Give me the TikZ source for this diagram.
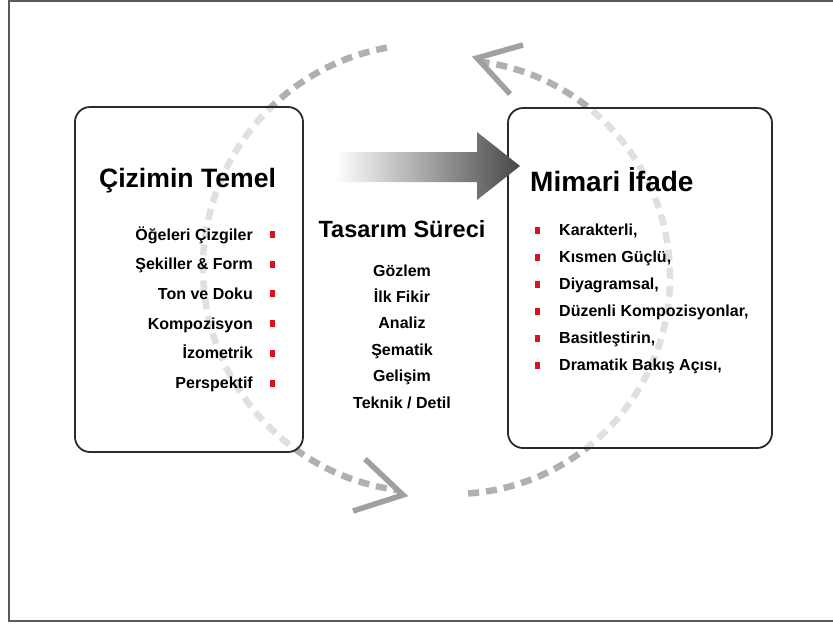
\documentclass[tikz,border=0pt]{standalone}
\usepackage{fontspec}
\setmainfont{Liberation Sans}
\usetikzlibrary{calc}
\definecolor{framegray}{HTML}{5A5A5A}
\definecolor{dashgray}{HTML}{B0B0B0}
\definecolor{headgray}{HTML}{A0A0A0}
\definecolor{bulletred}{HTML}{D8121E}
\definecolor{boxline}{HTML}{2A2A2A}
\begin{document}
\begin{tikzpicture}[x=1pt,y=-1pt,
  cyclearc/.style={draw=dashgray, line width=6.5pt, dash pattern=on 11pt off 7pt},
  chevron/.style={draw=headgray, line width=5.5pt},
  panel/.style={draw=boxline, line width=1.8pt, rounded corners=15pt,
    fill=white, fill opacity=0.62, inner sep=0pt},
  heading/.style={font=\bfseries\fontsize{#1}{#1}\selectfont, inner sep=0pt},
  item/.style={font=\bfseries\fontsize{16}{16}\selectfont, inner sep=0pt},
  bullet/.style={fill=bulletred, minimum width=5pt, minimum height=7pt, inner sep=0pt}
]
\useasboundingbox (0,0) rectangle (833,625);

% outer frame (open on the right)
\draw[framegray, line width=2pt] (833,621) -- (9,621) -- (9,0.8) -- (833,0.8);

% dashed cycle arcs with open chevron heads
\coordinate (lc) at (427,268);
\coordinate (rc) at (453,277);
\coordinate (ltip) at (403,495);
\coordinate (rtip) at (477,58);
\draw[cyclearc] ($(lc)+(259.7:224)$) arc[start angle=259.7, end angle=97.5, radius=224];
\draw[cyclearc] ($(rc)+(86:217)$) arc[start angle=86, end angle=-82.5, radius=217];
\draw[chevron] (365,459) -- (ltip) -- (353,511);
\draw[chevron] (523,45) -- (rtip) -- (510,94);

% panels
\node[panel, minimum width=228pt, minimum height=345pt] (fund) at (189,279.5) {};
\node[panel, minimum width=264pt, minimum height=340pt] (expr) at (640,278) {};

% shaded process arrow
\shade[left color=white, right color=black!72]
  (335,152) -- (477,152) -- (477,132) -- (520,166) -- (477,200) -- (477,182) -- (335,182) -- cycle;

% headings
\node[heading=26.6, anchor=base] (ttlA) at (187.5,187.5) {Çizimin Temel};
\node[heading=28, anchor=base west] (ttlB) at (530,191) {Mimari İfade};
\node[heading=23.5, anchor=base] (ttlC) at (402,237) {Tasarım Süreci};

% left list
\foreach \t [count=\i from 0] in {Öğeleri Çizgiler, Şekiller \& Form, Ton ve Doku,
    Kompozisyon, İzometrik, Perspektif} {
  \node[item, anchor=base east] (l\i) at (253, 240+29.7*\i) {\t};
  \node[bullet] (lb\i) at (272, 234.5+29.7*\i) {};
}

% middle list
\foreach \t [count=\i from 0] in {Gözlem, İlk Fikir, Analiz, Şematik, Gelişim, Teknik / Detil} {
  \node[item, anchor=base] (m\i) at (402, 276+26.46*\i) {\t};
}

% right list
\foreach \t [count=\i from 0] in {{Karakterli,}, {Kısmen Güçlü,}, {Diyagramsal,},
    {Düzenli Kompozisyonlar,}, {Basitleştirin,}, {Dramatik Bakış Açısı,}} {
  \node[item, anchor=base west] (r\i) at (559, 235+27*\i) {\t};
  \node[bullet] (rb\i) at (537, 230.5+27*\i) {};
}
\end{tikzpicture}
\end{document}
